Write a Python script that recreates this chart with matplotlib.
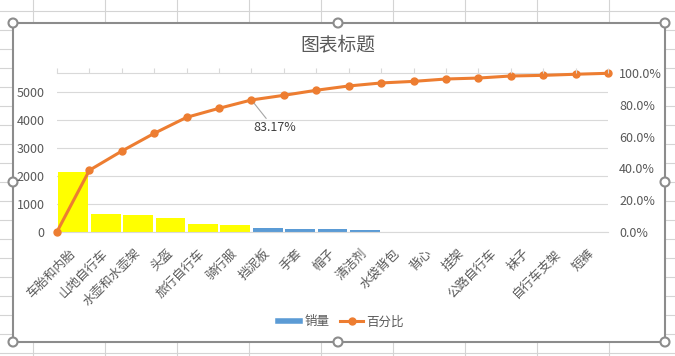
import matplotlib
matplotlib.use('Agg')
import matplotlib.pyplot as plt
from matplotlib.lines import Line2D
from matplotlib.patches import Rectangle, Circle
from matplotlib.ticker import FuncFormatter

plt.rcParams['font.family'] = ['Noto Sans CJK SC', 'DejaVu Sans']

# data
categories = ['车胎和内胎', '山地自行车', '水壶和水壶架', '头盔', '旅行自行车', '骑行服',
              '挡泥板', '手套', '帽子', '清洁剂', '水袋背包', '背心', '挂架',
              '公路自行车', '袜子', '自行车支架', '短裤']
sales = [2121, 632, 596, 489, 275, 239, 132, 96, 96, 60, 0, 0, 0, 0, 0, 0, 0]
cum_pct = [0, 38.8, 50.9, 62.1, 72.2, 77.9, 83.17, 86.1, 89.3, 92.0, 93.9,
           94.9, 96.4, 97.0, 98.3, 98.7, 99.4, 100.0]
sales_axis_max = 5657
sales_ticks = [0, 1000, 2000, 3000, 4000, 5000]
pct_ticks = [0, 0.2, 0.4, 0.6, 0.8, 1.0]

W, H = 675, 356
grey = '#595959'
fig = plt.figure(figsize=(W / 100, H / 100), dpi=100)

# worksheet background + chart frame, in pixel coordinates
bg = fig.add_axes([0, 0, 1, 1])
bg.set_xlim(0, W)
bg.set_ylim(H, 0)
bg.axis('off')
for y in range(11, H, 19):
    bg.plot([0, W], [y, y], color='#D4D4D4', lw=0.8, zorder=0)
for x in range(33, W, 72):
    bg.plot([x, x], [0, H], color='#D4D4D4', lw=0.8, zorder=0)
bg.add_patch(Rectangle((13, 23), 652, 319, facecolor='white', edgecolor='#8C8C8C', lw=1.5, zorder=1))
for hx, hy in [(13, 23), (338, 23), (665, 23), (13, 182), (665, 182), (13, 342), (338, 342), (665, 342)]:
    bg.add_patch(Circle((hx, hy), 4.5, facecolor='white', edgecolor='#8C8C8C', lw=1.5, zorder=2))

# plot area
left, right, top, bottom = 57, 608, 73.3, 231.7
ax = fig.add_axes([left / W, (H - bottom) / H, (right - left) / W, (bottom - top) / H])
ax.set_facecolor('none')
n = len(categories)
colors = ['#FFFF00' if i < 6 else '#5B9BD5' for i in range(n)]
xs = [i + 0.5 for i in range(n)]
ax.bar(xs, sales, width=0.92, color=colors, zorder=2)
ax.set_xlim(0, n)
ax.set_ylim(0, sales_axis_max)
ax.set_yticks(sales_ticks)
ax.yaxis.grid(True, color='#D9D9D9', lw=0.8, zorder=0)
ax.set_axisbelow(True)
ax.set_xticks(xs)
ax.set_xticklabels(categories, rotation=45, ha='right', va='center', rotation_mode='anchor')
ax.tick_params(axis='x', length=0, pad=14, labelsize=9, labelcolor=grey)
ax.tick_params(axis='y', length=0, pad=9, labelsize=9, labelcolor=grey)
for s in ['left', 'right', 'top']:
    ax.spines[s].set_visible(False)
ax.spines['bottom'].set_color('#D9D9D9')

# secondary axes for the cumulative percentage
ax2 = ax.twinx()
ax2.plot(range(n + 1), [p / 100 for p in cum_pct], color='#ED7D31', lw=2.2,
         marker='o', markersize=5, zorder=3, clip_on=False)
ax2.set_ylim(0, 1)
ax2.set_yticks(pct_ticks)
ax2.yaxis.set_major_formatter(FuncFormatter(lambda v, _: f'{v * 100:.1f}%'))
ax2.tick_params(axis='y', length=0, pad=8, labelsize=9, labelcolor=grey)
for s in ['left', 'right', 'bottom']:
    ax2.spines[s].set_visible(False)
ax2.spines['top'].set_color('#D9D9D9')
ax2.set_xlim(0, n)

# secondary x axis line with tick marks at category boundaries
ax3 = ax.twiny()
ax3.set_xlim(0, n)
ax3.set_xticks(range(n + 1))
ax3.set_xticklabels([])
ax3.tick_params(axis='x', length=3.5, color='#D9D9D9', width=0.8)
for s in ['left', 'right', 'bottom', 'top']:
    ax3.spines[s].set_visible(False)

ax2.annotate('83.17%', xy=(6, cum_pct[6] / 100), xytext=(16.5, -20), textcoords='offset points',
             ha='center', va='center', fontsize=9, color='#404040',
             arrowprops=dict(arrowstyle='-', color='#A6A6A6', lw=0.8, shrinkA=0, shrinkB=3,
                             relpos=(0.36, 1.0)))

fig.text(338 / W, 1 - 45 / H, '图表标题', ha='center', va='center', fontsize=13.5, color=grey)

handles = [Line2D([0], [0], color='#5B9BD5', lw=4),
           Line2D([0], [0], color='#ED7D31', lw=2.2, marker='o', markersize=5)]
fig.legend(handles, ['销量', '百分比'], loc='center', bbox_to_anchor=(341 / W, 1 - 322 / H),
           ncol=2, frameon=False, fontsize=9, labelcolor=grey, handlelength=1.8,
           columnspacing=0.9, handletextpad=0.3)

fig.savefig('out.png', dpi=100)
